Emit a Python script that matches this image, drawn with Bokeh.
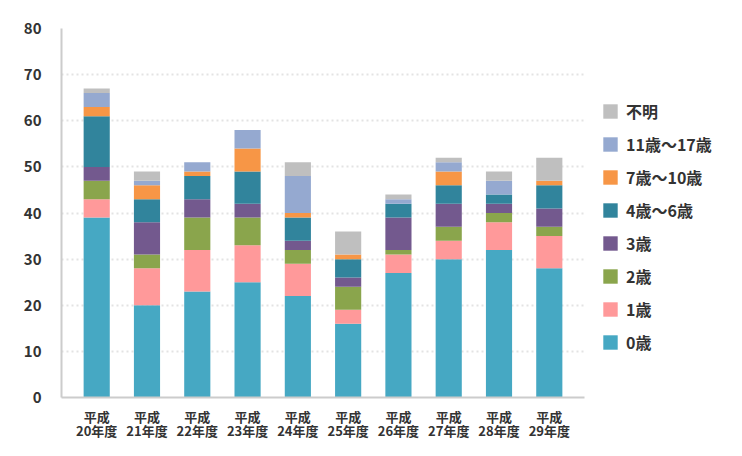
from bokeh.plotting import figure
from bokeh.models import Legend, LegendItem, FixedTicker, ColumnDataSource, FactorRange
from bokeh.embed import file_html
from bokeh.resources import INLINE

years = ["平成\n20年度", "平成\n21年度", "平成\n22年度", "平成\n23年度", "平成\n24年度",
         "平成\n25年度", "平成\n26年度", "平成\n27年度", "平成\n28年度", "平成\n29年度"]
age0 = [39, 20, 23, 25, 22, 16, 27, 30, 32, 28]
age1 = [4, 8, 9, 8, 7, 3, 4, 4, 6, 7]
age2 = [4, 3, 7, 6, 3, 5, 1, 3, 2, 2]
age3 = [3, 7, 4, 3, 2, 2, 7, 5, 2, 4]
age4_6 = [11, 5, 5, 7, 5, 4, 3, 4, 2, 5]
age7_10 = [2, 3, 1, 5, 1, 1, 0, 3, 0, 1]
age11_17 = [3, 1, 2, 4, 8, 0, 1, 2, 3, 0]
unknown = [1, 2, 0, 0, 3, 5, 1, 1, 2, 5]

series_names = ["0歳", "1歳", "2歳", "3歳", "4歳〜6歳", "7歳〜10歳", "11歳〜17歳", "不明"]
series_keys = ["a0", "a1", "a2", "a3", "a4_6", "a7_10", "a11_17", "unk"]
colors = ["#46a8c3", "#ff999a", "#8aa54c", "#73598e", "#31849c", "#f79646", "#95a9d0", "#bfbfbf"]
y_ticks = [0, 10, 20, 30, 40, 50, 60, 70, 80]

source = ColumnDataSource(dict(x=years, a0=age0, a1=age1, a2=age2, a3=age3, a4_6=age4_6,
                               a7_10=age7_10, a11_17=age11_17, unk=unknown))

FONT = "Noto Sans CJK JP"

p = figure(x_range=FactorRange(*years, range_padding=0.04), y_range=(0, 80),
           frame_width=523, frame_height=369,
           min_border_left=61, min_border_top=28, min_border_right=0, min_border_bottom=45,
           output_backend="svg", toolbar_location=None)

renderers = p.vbar_stack(series_keys, x="x", width=0.52, color=colors, line_color=None, source=source)

items = [LegendItem(label=n, renderers=[r]) for n, r in zip(series_names, renderers)][::-1]
legend = Legend(items=items, location=(17, 43), padding=0, margin=0, spacing=9,
                glyph_width=18, glyph_height=18, label_standoff=7,
                label_text_font=FONT, label_text_font_style="bold", label_text_font_size="16px",
                label_text_color="#333333", border_line_alpha=0, background_fill_alpha=0)
p.add_layout(legend, "right")

p.outline_line_color = None
p.xgrid.grid_line_color = None
p.ygrid.grid_line_color = "#e3e3e3"
p.ygrid.grid_line_dash = "2 3"
p.ygrid.grid_line_width = 2

p.yaxis.ticker = FixedTicker(ticks=y_ticks)
for ax in (p.xaxis, p.yaxis):
    ax.axis_line_color = "#cccccc"
    ax.axis_line_width = 2
    ax.major_tick_line_color = None
    ax.minor_tick_line_color = None
    ax.major_label_text_font = FONT
    ax.major_label_text_font_style = "bold"
    ax.major_label_text_font_size = "13px"
    ax.major_label_text_color = "#333333"
p.yaxis.major_label_text_font_size = "15px"
p.yaxis.major_label_standoff = 14
p.xaxis.major_label_standoff = 3
p.xaxis.major_label_text_line_height = 0.78

open("out.html", "w").write(file_html(p, INLINE))
